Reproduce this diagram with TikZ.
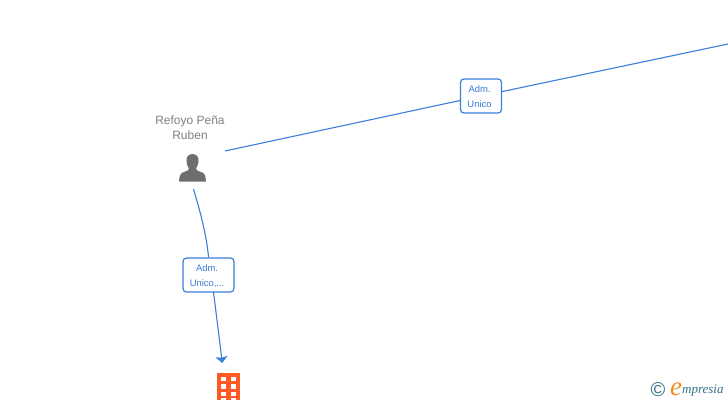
\documentclass[tikz,border=0pt]{standalone}
\usepackage{fontspec}
\setmainfont{Liberation Sans}
\newfontfamily\logofont{Liberation Serif}
\usetikzlibrary{arrows.meta}
\definecolor{linkblue}{HTML}{3B7DDD}
\definecolor{labelblue}{HTML}{3A78DC}
\definecolor{persongrey}{HTML}{6E6E6E}
\definecolor{textgrey}{HTML}{808080}
\definecolor{buildorange}{HTML}{FF5A26}
\definecolor{logoblue}{HTML}{2F7188}
\definecolor{logoorange}{HTML}{F08A1D}
\tikzset{
  linkline/.style={draw=linkblue,line width=1.1pt},
  rolebox/.style={draw=linkblue,line width=1.2pt,rounded corners=3.5pt,fill=white,
    text=labelblue,font=\fontsize{9.4}{15}\selectfont,align=center,inner sep=0pt},
  persontext/.style={text=textgrey,font=\fontsize{12}{15}\selectfont,align=center,inner sep=0pt},
  logotext/.style={text=logoblue,inner sep=0pt,anchor=base west},
}
\begin{document}
\begin{tikzpicture}[x=1pt,y=-1pt]
\useasboundingbox (0,0) rectangle (728,400);
% person
\node[persontext] (name) at (190,128) {Refoyo Peña\\Ruben};
\coordinate (personR) at (225,151);
\coordinate (personB) at (193.5,189);
\fill[persongrey] (192.5,154) .. controls (187.5,154) and (186,158) .. (186.5,162)
  .. controls (187,165) and (188,167) .. (189,168.5)
  .. controls (189,170.5) and (187,171) .. (184,172)
  .. controls (180.5,173) and (179.5,175) .. (179,181.5)
  -- (206,181.5)
  .. controls (205.5,175) and (204.5,173) .. (201,172)
  .. controls (198,171) and (196,170.5) .. (196,168.5)
  .. controls (197,167) and (198,165) .. (198.5,162)
  .. controls (199,158) and (197.5,154) .. (192.5,154) -- cycle;
% role boxes
\node[rolebox,minimum width=41pt,minimum height=34pt] (role1) at (481,96) {\rule{0pt}{9pt}Adm.\kern3pt\\Unico\kern3pt};
\node[rolebox,minimum width=51pt,minimum height=34pt] (role2) at (208.5,275) {\rule{0pt}{9pt}Adm.\kern3pt\\Unico,...\kern3pt};
\coordinate (farEnd) at (728,44);
\coordinate (arrowEnd) at (222.3,363);
% connectors
\draw[linkline] (personR) -- (role1);
\draw[linkline] (role1) -- (farEnd);
\draw[linkline] (personB) .. controls (201,214) and (207,238) .. (role2.north);
\draw[linkline,-{Stealth[length=6.5pt,width=12pt,inset=1.2pt]}] (213.5,292) -- (arrowEnd);
% building
\fill[buildorange] (217,373) rectangle (240,400);
\foreach \r in {376.5,384,391.5,398}{
  \foreach \c in {220.5,230.5}{
    \fill[white] (\c,\r) rectangle ++(5.5,4.5);
  }
}
% logo
\node[text=logoblue,font=\fontsize{20}{20}\selectfont,inner sep=0pt] (copy) at (658,389.5) {©};
\node[text=logoorange,font=\logofont\fontsize{27}{27}\itshape\selectfont,inner sep=0pt,anchor=base west] (elogo) at (670,395) {e};
\node[logotext,font=\logofont\fontsize{13}{13}\itshape\selectfont] (wordlogo) at (682,393.5) {mpresia};
\end{tikzpicture}
\end{document}
